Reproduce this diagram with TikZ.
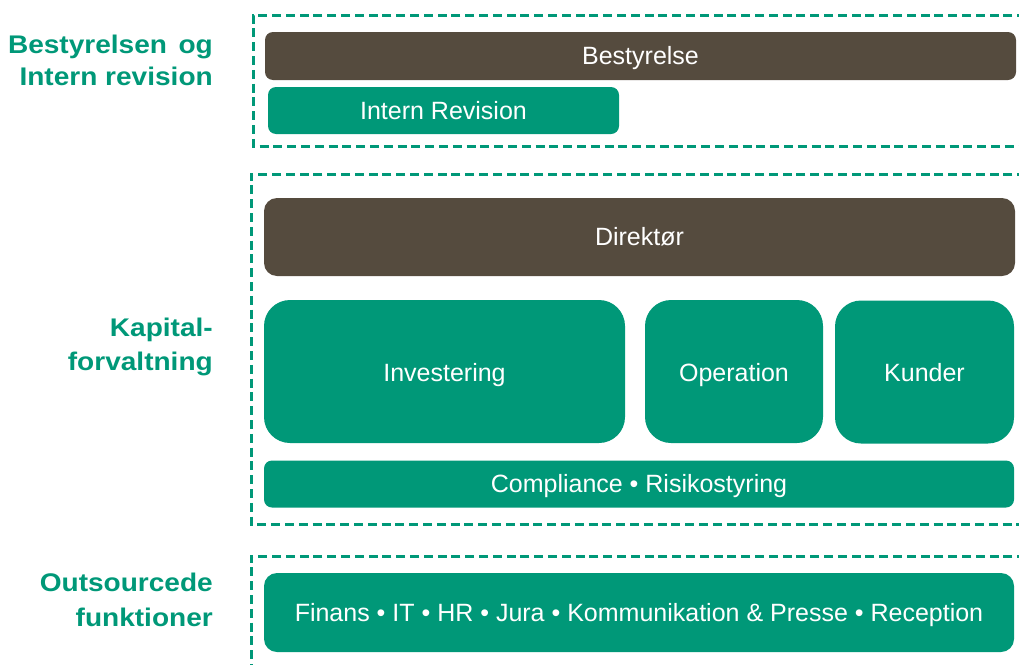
\documentclass[tikz,border=0pt]{standalone}
\usepackage{fontspec}
\setmainfont{Liberation Sans}
\newfontfamily\lblfont[FakeStretch=1.1]{Liberation Sans Bold}
\definecolor{grn}{RGB}{0,152,120}
\definecolor{brn}{RGB}{85,75,62}
\begin{document}
\begin{tikzpicture}[x=1pt,y=-1pt,
  bar/.style={draw=none,fill=grn,text=white,inner sep=0pt,text height=17.9pt,text depth=0pt,font=\fontsize{25}{28}\selectfont},
  darkbar/.style={bar,fill=brn},
  grp/.style={draw=grn,line width=3pt,dash pattern=on 9pt off 4.8pt},
  lbl/.style={text=grn,anchor=base east,inner sep=0pt,font=\lblfont\fontsize{25.5}{30}\selectfont}]
\clip (0,0) rectangle (1019,664);
% group frames
\draw[grp] (1040,15) -- (253,15) -- (253,146) -- (1040,146);
\draw[grp] (1040,174) -- (251,174) -- (251,524) -- (1040,524);
\draw[grp] (1040,556) -- (251,556) -- (251,690);
% bars
\node[darkbar,rounded corners=8pt,minimum width=751pt,minimum height=48pt] (best) at (640.5,56) {Bestyrelse};
\node[bar,rounded corners=8pt,minimum width=351pt,minimum height=47pt] (ir) at (443.5,110.5) {Intern Revision};
\node[darkbar,rounded corners=13pt,minimum width=751pt,minimum height=78pt] (dir) at (639.5,237) {Direktør};
\node[bar,rounded corners=26pt,minimum width=361pt,minimum height=143pt,text height=20pt] (inv) at (444.5,371.5) {Investering};
\node[bar,rounded corners=26pt,minimum width=178pt,minimum height=143pt,text height=20pt] (op) at (734,371.5) {Operation};
\node[bar,rounded corners=26pt,minimum width=179pt,minimum height=143pt,text height=19pt] (kun) at (924.5,372) {Kunder};
\node[bar,rounded corners=8pt,minimum width=750pt,minimum height=47pt] (comp) at (639,484) {Compliance • Risikostyring};
\node[bar,rounded corners=13pt,minimum width=750pt,minimum height=79pt,text height=18.4pt] (out) at (639,612.5) {Finans • IT • HR • Jura • Kommunikation \& Presse • Reception};
% labels
\node[lbl] (l1a) at (213,53.7) {Bestyrelsen\hspace{0.45em}og};
\node[lbl] (l1b) at (213,85.5) {Intern revision};
\node[lbl] (l2a) at (213,336.5) {Kapital-};
\node[lbl] (l2b) at (213,370.7) {forvaltning};
\node[lbl] (l3a) at (213,591.5) {Outsourcede};
\node[lbl] (l3b) at (213,626.5) {funktioner};
\end{tikzpicture}
\end{document}
